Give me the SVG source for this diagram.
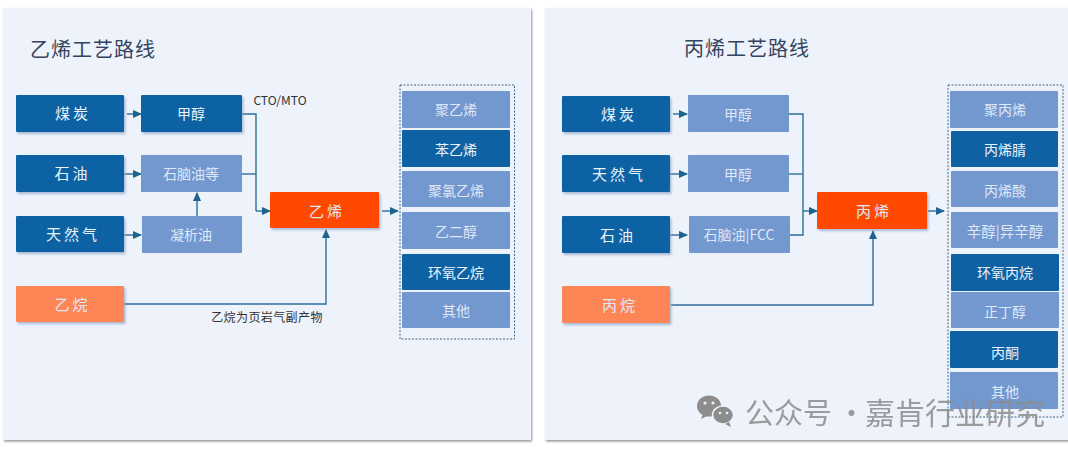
<svg xmlns="http://www.w3.org/2000/svg" width="1068" height="454" viewBox="0 0 1068 454">
<style>
text{font-family:"Noto Sans CJK SC","Liberation Sans",sans-serif;text-anchor:middle;dominant-baseline:central;transform:translateY(-2.500px)}
.panel{fill:#edf2fb}
.dark{fill:#0e62a4}
.light{fill:#7397cf}
.orange{fill:#fe8555}
.red{fill:#ff4a02}
.t{fill:#eaf2fa;font-size:14px}
.tl{fill:#dfe8f6;font-size:14px}
.big{font-size:15px;letter-spacing:3px}
.title{fill:#33445e;font-size:20px;letter-spacing:1px;text-anchor:start}
.c{fill:none;stroke:#2f6f9b;stroke-width:1.4}
.box{fill:none;stroke:#2c5a78;stroke-width:.9;stroke-dasharray:2 1.5}
.cap{fill:#333;font-size:12px}
.capz{fill:#333;font-size:12px;letter-spacing:.4px}
.wm{fill:#8d8d8d;font-size:29px;text-anchor:start;opacity:.85}
</style>
<defs>
<marker id="a" markerWidth="9" markerHeight="8" refX="8" refY="4" orient="auto" markerUnits="userSpaceOnUse"><path d="M0 0L9 4L0 8Z" fill="#1b648f"/></marker>
<filter id="s" x="-5%" y="-5%" width="112%" height="118%"><feDropShadow dx="1.5" dy="2" stdDeviation="1" flood-color="#8fa3c4" flood-opacity=".7"/></filter>
<filter id="p" x="-2%" y="-2%" width="104%" height="104%"><feDropShadow dx="1" dy="1.5" stdDeviation="1" flood-color="#666" flood-opacity=".7"/></filter>
</defs>
<rect width="1068" height="454" fill="#fff"/>
<rect class="panel" x="3" y="8" width="528" height="432" filter="url(#p)"/>
<rect class="panel" x="545" y="8" width="530" height="432" filter="url(#p)"/>
<text class="title" x="30" y="51">乙烯工艺路线</text>
<text class="title" x="684" y="50">丙烯工艺路线</text>

<g id="connectors">
<path class="c" marker-end="url(#a)" d="M127 114H141"/>
<path class="c" marker-end="url(#a)" d="M124 174H141"/>
<path class="c" marker-end="url(#a)" d="M124 235H141"/>
<path class="c" marker-end="url(#a)" d="M197 216V193"/>
<path class="c" d="M242 114H256V211"/>
<path class="c" d="M242 174H256"/>
<path class="c" marker-end="url(#a)" d="M256 211H270"/>
<path class="c" marker-end="url(#a)" d="M124 304H326V230"/>
<path class="c" marker-end="url(#a)" d="M382 211H398"/>
<path class="c" marker-end="url(#a)" d="M673 114H687"/>
<path class="c" marker-end="url(#a)" d="M670 174H687"/>
<path class="c" marker-end="url(#a)" d="M670 235H687"/>
<path class="c" d="M789 114H803V235H790"/>
<path class="c" d="M789 174H803"/>
<path class="c" marker-end="url(#a)" d="M803 211H817"/>
<path class="c" marker-end="url(#a)" d="M671 305H873V231"/>
<path class="c" marker-end="url(#a)" d="M928 211H944"/>
</g>

<g id="n-coal"><rect class="dark" filter="url(#s)" x="16" y="95" width="108" height="37" rx="1"/><text class="t big" x="73" y="115">煤炭</text></g>
<g id="n-methanol"><rect class="dark" filter="url(#s)" x="141" y="95" width="101" height="37" rx="1"/><text class="t" x="191" y="115">甲醇</text></g>
<g id="n-oil"><rect class="dark" filter="url(#s)" x="16" y="155" width="108" height="37" rx="1"/><text class="t big" x="72.500" y="175">石油</text></g>
<g id="n-naphtha"><rect class="light" x="141" y="155" width="101" height="37" rx="1"/><text class="tl" x="191" y="175">石脑油等</text></g>
<g id="n-gas"><rect class="dark" filter="url(#s)" x="16" y="216" width="108" height="36" rx="1"/><text class="t big" x="73" y="236">天然气</text></g>
<g id="n-condensate"><rect class="light" x="142" y="216" width="100" height="37" rx="1"/><text class="tl" x="191" y="236">凝析油</text></g>
<g id="n-ethane"><rect class="orange" filter="url(#s)" x="16" y="286" width="108" height="36" rx="1"/><text class="tl big" x="72.500" y="306">乙烷</text></g>
<g id="n-ethylene"><rect class="red" filter="url(#s)" x="270" y="192" width="109" height="36" rx="1"/><text class="tl big" x="327" y="213">乙烯</text></g>
<text class="cap" x="280" y="102">CTO/MTO</text>
<text class="capz" x="267" y="319">乙烷为页岩气副产物</text>

<g id="ethylene-products">
<rect class="box" x="400" y="85" width="114.500" height="254"/>
<g id="e1"><rect class="light" x="402" y="91" width="108" height="37" rx="1"/><text class="tl" x="456" y="111">聚乙烯</text></g>
<g id="e2"><rect class="dark" x="402" y="130" width="108" height="37" rx="1"/><text class="t" x="456" y="151">苯乙烯</text></g>
<g id="e3"><rect class="light" x="402" y="171" width="108" height="36" rx="1"/><text class="tl" x="456" y="192">聚氯乙烯</text></g>
<g id="e4"><rect class="light" x="402" y="212" width="108" height="37" rx="1"/><text class="tl" x="456" y="233">乙二醇</text></g>
<g id="e5"><rect class="dark" x="402" y="254" width="108" height="36" rx="1"/><text class="t" x="456" y="274">环氧乙烷</text></g>
<g id="e6"><rect class="light" x="402" y="292" width="108" height="36" rx="1"/><text class="tl" x="456" y="312">其他</text></g>
</g>

<g id="p-coal"><rect class="dark" filter="url(#s)" x="562" y="96" width="108" height="36" rx="1"/><text class="t big" x="619" y="116">煤炭</text></g>
<g id="p-methanol1"><rect class="light" x="688" y="95" width="101" height="37" rx="1"/><text class="tl" x="738" y="116">甲醇</text></g>
<g id="p-gas"><rect class="dark" filter="url(#s)" x="562" y="155" width="108" height="37" rx="1"/><text class="t big" x="619" y="176">天然气</text></g>
<g id="p-methanol2"><rect class="light" x="688" y="155" width="101" height="37" rx="1"/><text class="tl" x="738" y="176">甲醇</text></g>
<g id="p-oil"><rect class="dark" filter="url(#s)" x="562" y="216" width="108" height="37" rx="1"/><text class="t big" x="618" y="237">石油</text></g>
<g id="p-naphtha"><rect class="light" x="689" y="216" width="101" height="37" rx="1"/><text class="tl" x="739" y="236">石脑油|FCC</text></g>
<g id="p-propane"><rect class="orange" filter="url(#s)" x="562" y="286" width="108" height="37" rx="1"/><text class="tl big" x="620" y="307">丙烷</text></g>
<g id="p-propylene"><rect class="red" filter="url(#s)" x="817" y="192" width="110" height="37" rx="1"/><text class="tl big" x="874" y="213">丙烯</text></g>

<g id="propylene-products">
<rect class="box" x="948" y="85" width="115" height="332"/>
<g id="r1"><rect class="light" x="950" y="91" width="108" height="37" rx="1"/><text class="tl" x="1005" y="111">聚丙烯</text></g>
<g id="r2"><rect class="dark" x="951" y="131" width="107" height="36" rx="1"/><text class="t" x="1005" y="151">丙烯腈</text></g>
<g id="r3"><rect class="light" x="951" y="171" width="107" height="36" rx="1"/><text class="tl" x="1005" y="192">丙烯酸</text></g>
<g id="r4"><rect class="light" x="951" y="212" width="107" height="36" rx="1"/><text class="tl" style="font-size:14.500px" x="1005" y="233">辛醇|异辛醇</text></g>
<g id="r5"><rect class="dark" x="951" y="254" width="108" height="37" rx="1"/><text class="t" x="1005" y="274">环氧丙烷</text></g>
<g id="r6"><rect class="light" x="951" y="292" width="108" height="36" rx="1"/><text class="tl" x="1005" y="313">正丁醇</text></g>
<g id="r7"><rect class="dark" x="950" y="331" width="108" height="37" rx="1"/><text class="t" x="1005" y="354">丙酮</text></g>
<g id="r8"><rect class="light" x="950" y="372" width="108" height="37" rx="1"/><text class="tl" x="1005" y="393">其他</text></g>
</g>

<g id="watermark">
<ellipse cx="709" cy="406" rx="12" ry="10.500" fill="#8d8d8d"/>
<path d="M703 414l-2 5 6-3z" fill="#8d8d8d"/>
<ellipse cx="723" cy="415" rx="10.500" ry="9" fill="#8d8d8d" stroke="#edf2fb" stroke-width="1.500"/>
<path d="M729 422l2 5-6-3z" fill="#8d8d8d"/>
<circle cx="705" cy="403" r="1.600" fill="#edf2fb"/><circle cx="713" cy="403" r="1.600" fill="#edf2fb"/>
<circle cx="720" cy="413" r="1.300" fill="#edf2fb"/><circle cx="727" cy="413" r="1.300" fill="#edf2fb"/>
<text class="wm" x="745" y="413">公众号<tspan x="837">·</tspan><tspan x="865" style="font-size:30px">嘉肯行业研究</tspan></text>
</g>
</svg>
